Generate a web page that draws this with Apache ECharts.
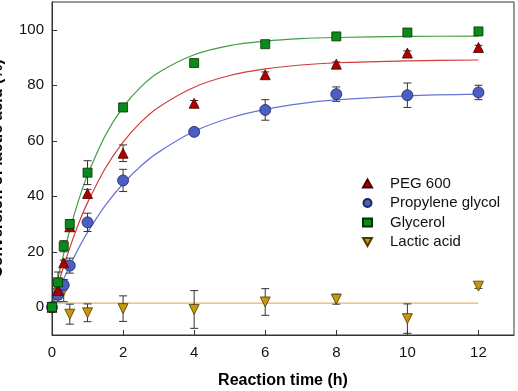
<!DOCTYPE html>
<html>
<head>
<meta charset="utf-8">
<script src="https://cdn.jsdelivr.net/npm/echarts@6/dist/echarts.min.js"></script>
<style>
  html, body { margin: 0; padding: 0; background: #fff; }
  #chart { width: 518px; height: 391px; }
</style>
</head>
<body>
<div id="chart"></div>
<script>
// measured points (time in h, conversion in %)
const timeObs = [0, 0.17, 0.33, 0.5, 1, 2, 4, 6, 8, 10, 12]
const peg = [0, 6, 16, 29, 41, 55.5, 73.5, 83.8, 87.6, 91.6, 93.6]
const pegErr = [0.5, 1, 1, 1, 1.5, 3, 1, 1, 0.8, 0.8, 0.8]
const propylene = [0, 4.5, 8, 15, 30.6, 45.7, 63.2, 71.1, 76.8, 76.4, 77.4]
const propyleneErr = [0.5, 1.5, 1.5, 2.7, 3.3, 4, 1.2, 3.7, 2.6, 4.4, 2.6]
const glycerol = [0, 9, 22, 30, 48.5, 72, 88, 94.8, 97.6, 99, 99.4]
const glycerolErr = [0.5, 3.7, 2, 1.5, 4.3, 1.5, 1, 0.8, 0.8, 1, 0.8]
const lactic = [0, 5, 6, -2.5, -2, -0.5, -0.8, 1.9, 2.9, -4.1, 7.6]
const lacticErr = [0.5, 3, 4, 3.6, 3.2, 4.6, 6.8, 4.8, 1.8, 5.3, 0.8]

// fitted curves
const fitTime = [0, 0.25, 0.5, 0.75, 1, 1.5, 2, 2.5, 3, 4, 5, 6, 7, 8, 10, 12]
const pegFit = [0, 11.5, 21.4, 30.2, 37.7, 50.1, 59.5, 66.7, 72.1, 79.3, 83.5, 85.9, 87.3, 88.1, 88.8, 89.1]
const propyleneFit = [0, 7.9, 14.9, 21.3, 27.0, 36.7, 44.5, 50.9, 55.9, 63.4, 68.2, 71.3, 73.4, 74.7, 76.2, 76.8]
const glycerolFit = [0, 15.1, 27.8, 38.6, 47.7, 61.9, 72.1, 79.4, 84.6, 91.0, 94.3, 95.9, 96.8, 97.2, 97.6, 97.7]
const lacticFitTime = [0, 12]
const lacticFit = [1.5, 1.5]

const xTicks = [0, 2, 4, 6, 8, 10, 12]
const yTicks = [0, 20, 40, 60, 80, 100]

const font = 'Liberation Sans, Arial, sans-serif'
const downTriangle = 'path://M0,0L10,0L5,9Z'

const pairs = (xs, ys) => xs.map((x, i) => [x, ys[i]])

const errorSeries = (name, ys, errs) => ({
  type: 'custom',
  name: name + ' error',
  z: 3,
  silent: true,
  data: timeObs.map((t, i) => [t, ys[i], errs[i]]),
  encode: { x: 0, y: 1 },
  renderItem: (params, api) => {
    const x = api.value(0)
    const v = api.value(1)
    const e = api.value(2)
    const top = api.coord([x, v + e])
    const bot = api.coord([x, v - e])
    const w = 4
    const style = { stroke: '#333', lineWidth: 1 }
    return {
      type: 'group',
      children: [
        { type: 'line', shape: { x1: top[0], y1: top[1], x2: bot[0], y2: bot[1] }, style },
        { type: 'line', shape: { x1: top[0] - w, y1: top[1], x2: top[0] + w, y2: top[1] }, style },
        { type: 'line', shape: { x1: bot[0] - w, y1: bot[1], x2: bot[0] + w, y2: bot[1] }, style }
      ]
    }
  }
})

const fitSeries = (xs, ys, color) => ({
  type: 'line',
  z: 2,
  silent: true,
  smooth: 0.3,
  showSymbol: false,
  data: pairs(xs, ys),
  lineStyle: { color, width: 1.2 }
})

const pointSeries = (name, ys, symbol, size, fill, border) => ({
  type: 'scatter',
  name,
  z: 4,
  symbol,
  symbolSize: size,
  data: pairs(timeObs, ys),
  itemStyle: { color: fill, borderColor: border, borderWidth: 0.8, opacity: 1 }
})

const chart = echarts.init(document.getElementById('chart'))

const option = {
  animation: false,
  grid: {
    left: 52,
    right: 4,
    top: 2,
    bottom: 56,
    outerBoundsMode: 'none',
    containLabel: false,
    show: true,
    borderColor: '#333',
    borderWidth: 1
  },
  legend: {
    orient: 'vertical',
    left: 357,
    top: 171,
    itemWidth: 9,
    itemHeight: 8,
    itemGap: 4.5,
    textStyle: { fontFamily: font, fontSize: 15, color: '#111', lineHeight: 15, padding: [0, 0, 0, 13] },
    data: [
      { name: 'PEG 600', icon: 'triangle' },
      { name: 'Propylene glycol', icon: 'circle' },
      { name: 'Glycerol', icon: 'rect' },
      { name: 'Lactic acid', icon: downTriangle }
    ]
  },
  xAxis: {
    type: 'value',
    min: 0,
    max: 13,
    name: 'Reaction time (h)',
    nameLocation: 'middle',
    nameGap: 38,
    nameTextStyle: { fontFamily: font, fontSize: 16, fontWeight: 'bold', color: '#000' },
    axisLine: { onZero: false, lineStyle: { color: '#333' } },
    axisTick: { inside: true, length: 5, customValues: xTicks, lineStyle: { color: '#333' } },
    axisLabel: { fontFamily: font, fontSize: 15, color: '#111', margin: 10, customValues: xTicks },
    splitLine: { show: false }
  },
  yAxis: {
    type: 'value',
    min: -10,
    max: 110,
    name: 'Conversion of lactic acid (%)',
    nameLocation: 'middle',
    nameGap: 46,
    nameTextStyle: { fontFamily: font, fontSize: 16, fontWeight: 'bold', color: '#000' },
    axisLine: { show: true, onZero: false, lineStyle: { color: '#333' } },
    axisTick: { show: true, inside: true, length: 5, customValues: yTicks, lineStyle: { color: '#333' } },
    axisLabel: { fontFamily: font, fontSize: 15, color: '#111', margin: 8, customValues: yTicks },
    splitLine: { show: false }
  },
  series: [
    fitSeries(fitTime, glycerolFit, '#3f9d3f'),
    fitSeries(fitTime, pegFit, '#d43c3c'),
    fitSeries(fitTime, propyleneFit, '#6675d4'),
    fitSeries(lacticFitTime, lacticFit, '#e6b46a'),
    errorSeries('PEG 600', peg, pegErr),
    errorSeries('Propylene glycol', propylene, propyleneErr),
    errorSeries('Glycerol', glycerol, glycerolErr),
    errorSeries('Lactic acid', lactic, lacticErr),
    pointSeries('Lactic acid', lactic, downTriangle, 10, '#c9960c', '#4a3800'),
    pointSeries('Propylene glycol', propylene, 'circle', 11, '#4a5fc1', '#1c2560'),
    pointSeries('PEG 600', peg, 'triangle', 10, '#b00000', '#4a0000'),
    pointSeries('Glycerol', glycerol, 'rect', 9, '#0a8a1a', '#003300')
  ]
}

chart.setOption(option)
window.addEventListener('resize', () => chart.resize())
</script>
</body>
</html>
